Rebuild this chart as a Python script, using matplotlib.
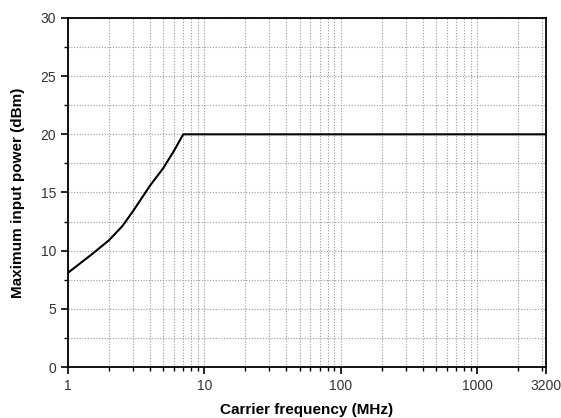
import matplotlib.pyplot as plt
from matplotlib.ticker import FixedLocator, NullFormatter

plt.rcParams['font.family'] = ['Liberation Sans', 'DejaVu Sans']

# carrier frequency (MHz) and max input power (dBm)
freq_mhz = [1, 1.5, 2, 2.5, 3, 4, 5, 6, 7, 3200]
power_dbm = [8.1, 9.7, 10.9, 12.1, 13.4, 15.6, 17.1, 18.6, 20.0, 20.0]

x_ticks = [1, 10, 100, 1000, 3200]
x_tick_labels = ["1", "10", "100", "1000", "3200"]
y_ticks = [0, 5, 10, 15, 20, 25, 30]

fig = plt.figure(figsize=(5.61, 4.18), dpi=100)
ax = fig.add_axes((0.1212, 0.122, 0.852, 0.835))

ax.plot(freq_mhz, power_dbm, color='black', lw=1.5)

ax.set_xscale('log')
ax.set_xlim(1, 3200)
ax.set_ylim(0, 30)

ax.set_xticks(x_ticks)
ax.set_xticklabels(x_tick_labels)
minors = [m * 10 ** d for d in range(4) for m in range(2, 10) if m * 10 ** d < 3200]
ax.xaxis.set_minor_locator(FixedLocator(minors))
ax.xaxis.set_minor_formatter(NullFormatter())

ax.set_yticks(y_ticks)
ax.yaxis.set_minor_locator(FixedLocator([2.5, 7.5, 12.5, 17.5, 22.5, 27.5]))

ax.grid(which='both', color='#999999', linestyle=(0, (1, 1.5)), lw=0.8)
ax.set_axisbelow(True)

for s in ax.spines.values():
    s.set_linewidth(1.3)
ax.tick_params(which='major', length=5, width=1.2, labelsize=10, colors='black',
               labelcolor='#333333')
ax.tick_params(which='minor', length=3, width=1.0)

ax.set_xlabel('Carrier frequency (MHz)', fontsize=11, fontweight='bold', labelpad=7.5)
ax.set_ylabel('Maximum input power (dBm)', fontsize=11, fontweight='bold', labelpad=11)

fig.savefig('out.png', dpi=100)
